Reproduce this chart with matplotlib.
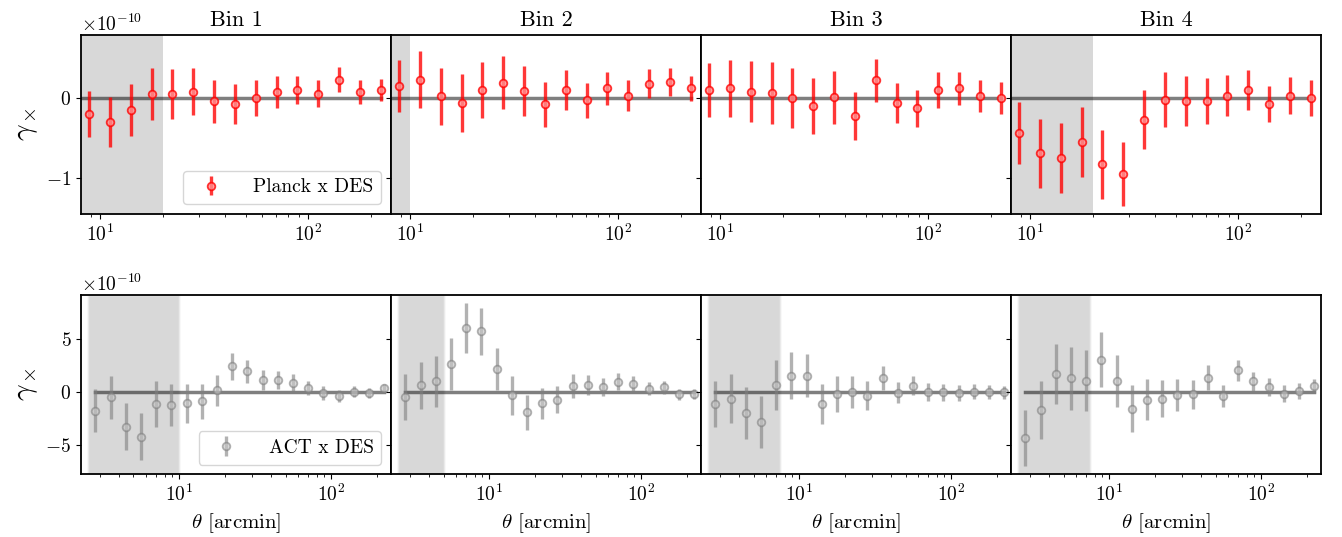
import numpy as np
import matplotlib
matplotlib.use("Agg")
import matplotlib.pyplot as plt

plt.rcParams["font.family"] = "serif"
plt.rcParams["font.serif"] = ["cmr10"]
plt.rcParams["mathtext.fontset"] = "cm"
plt.rcParams["axes.formatter.use_mathtext"] = True
plt.rcParams["axes.unicode_minus"] = True

# angular bin centres [arcmin]
theta = [2.81, 3.53, 4.44, 5.59, 7.04, 8.87, 11.16, 14.05, 17.69, 22.27,
         28.04, 35.30, 44.44, 55.95, 70.43, 88.67, 111.63, 140.53, 176.92, 222.73]
theta_planck = theta[5:]

bins = ["Bin 1", "Bin 2", "Bin 3", "Bin 4"]

# Planck x DES, units of 1e-10
planck_y = [
    [-0.20, -0.30, -0.15, 0.05, 0.05, 0.08, -0.04, -0.075, 0.0, 0.07, 0.10, 0.055, 0.23, 0.075, 0.10],
    [0.15, 0.23, 0.02, -0.06, 0.10, 0.19, 0.09, -0.08, 0.10, -0.03, 0.12, 0.03, 0.18, 0.20, 0.12],
    [0.10, 0.12, 0.08, 0.06, 0.0, -0.10, 0.01, -0.23, 0.22, -0.06, -0.13, 0.10, 0.12, 0.03, 0.0],
    [-0.44, -0.69, -0.75, -0.55, -0.83, -0.95, -0.27, -0.02, -0.035, -0.04, 0.03, 0.10, -0.075, 0.03, 0.0],
]
planck_err = [
    [0.285, 0.31, 0.32, 0.32, 0.31, 0.29, 0.27, 0.245, 0.22, 0.20, 0.18, 0.17, 0.16, 0.15, 0.14],
    [0.32, 0.35, 0.36, 0.36, 0.35, 0.33, 0.31, 0.28, 0.25, 0.22, 0.21, 0.19, 0.18, 0.17, 0.16],
    [0.34, 0.36, 0.38, 0.39, 0.375, 0.35, 0.33, 0.30, 0.27, 0.25, 0.23, 0.22, 0.21, 0.20, 0.20],
    [0.39, 0.43, 0.44, 0.44, 0.43, 0.40, 0.37, 0.34, 0.31, 0.285, 0.26, 0.245, 0.23, 0.23, 0.225],
]

# ACT x DES, units of 1e-10
act_y = [
    [-1.75, -0.5, -3.25, -4.2, -1.1, -1.2, -1.05, -0.85, 0.15, 2.4,
     1.95, 1.15, 1.15, 0.85, 0.4, -0.12, -0.35, 0.05, -0.1, 0.35],
    [-0.45, 0.65, 1.0, 2.6, 6.0, 5.7, 2.15, -0.3, -1.9, -1.05,
     -0.7, 0.55, 0.65, 0.45, 0.95, 0.8, 0.3, 0.45, -0.2, -0.2],
    [-1.15, -0.6, -1.95, -2.8, 0.7, 1.55, 1.55, -1.1, -0.2, 0.05,
     -0.35, 1.3, -0.05, 0.6, 0.0, 0.0, -0.05, 0.05, 0.0, 0.0],
    [-4.3, -1.7, 1.7, 1.3, 1.05, 3.05, 1.05, -1.55, -0.7, -0.6,
     -0.3, -0.2, 1.35, -0.35, 2.05, 1.0, 0.45, -0.15, 0.1, 0.55],
]
act_err = [
    [2.0, 2.05, 2.2, 2.2, 2.15, 2.0, 1.8, 1.65, 1.45, 1.3,
     1.1, 0.95, 0.85, 0.8, 0.65, 0.65, 0.55, 0.55, 0.45, 0.4],
    [2.15, 2.2, 2.4, 2.45, 2.35, 2.2, 2.0, 1.8, 1.65, 1.45,
     1.25, 1.1, 0.95, 0.85, 0.8, 0.7, 0.6, 0.6, 0.5, 0.45],
    [2.15, 2.25, 2.4, 2.45, 2.35, 2.2, 2.0, 1.9, 1.7, 1.5,
     1.35, 1.15, 1.0, 0.9, 0.85, 0.8, 0.75, 0.7, 0.65, 0.6],
    [2.6, 2.7, 2.85, 2.95, 2.85, 2.6, 2.4, 2.2, 1.95, 1.75,
     1.5, 1.35, 1.2, 1.05, 1.0, 0.9, 0.85, 0.8, 0.75, 0.65],
]

# scale cuts (shaded)
planck_cut = [20, 10, None, 20]
act_cut = [10, 5, 7.5, 7.5]

theta = np.array(theta)
theta_planck = np.array(theta_planck)

fig = plt.figure(figsize=(13.42, 5.37), dpi=100)
top_axes = []
bot_axes = []
left, right = 0.0604, 0.9844
w = (right - left) / 4
for i in range(4):
    ax_t = fig.add_axes([left + i * w, 0.6015, w, 0.3339],
                        sharey=top_axes[0] if top_axes else None)
    ax_b = fig.add_axes([left + i * w, 0.1168, w, 0.3339],
                        sharey=bot_axes[0] if bot_axes else None)
    top_axes.append(ax_t)
    bot_axes.append(ax_b)

for i in range(4):
    ax = top_axes[i]
    if planck_cut[i]:
        ax.axvspan(2.5, planck_cut[i], color="gray", alpha=0.3, lw=0)
    ax.plot(theta, 0 * theta, color="k", alpha=0.5, lw=2.5)
    ax.errorbar(theta_planck, np.array(planck_y[i]) * 1e-10,
                yerr=np.array(planck_err[i]) * 1e-10,
                fmt="o", color="red", mfc="#ff9090", mec="red", mew=1.3,
                alpha=0.78, ms=5.5, elinewidth=2.4,
                label="Planck x DES")
    ax.set_xscale("log")
    ax.set_xlim(8.1, 250)
    ax.set_ylim(-1.45e-10, 0.79e-10)
    ax.set_yticks([-1e-10, 0])
    ax.set_title(bins[i], fontsize=16)

    ax = bot_axes[i]
    ax.axvspan(2.5, act_cut[i], color="gray", alpha=0.3, lw=2, ec="#e8e8e8")
    ax.plot(theta, 0 * theta, color="k", alpha=0.5, lw=2.5)
    ax.errorbar(theta, np.array(act_y[i]) * 1e-10,
                yerr=np.array(act_err[i]) * 1e-10,
                fmt="o", color="gray", mfc="#c8c8c8", mec="gray", mew=1.3,
                alpha=0.6, ms=5.5, elinewidth=2.4,
                label="ACT x DES")
    ax.set_xscale("log")
    ax.set_xlim(2.26, 247)
    ax.set_ylim(-7.7e-10, 9.1e-10)
    ax.set_yticks([-5e-10, 0, 5e-10])
    ax.set_xlabel(r"$\theta$ [arcmin]", fontsize=15)

    for a in (top_axes[i], bot_axes[i]):
        a.tick_params(labelsize=14)
        if i > 0:
            a.tick_params(labelleft=False)
        for s in a.spines.values():
            s.set_linewidth(1.3)

for a in (top_axes[0], bot_axes[0]):
    a.set_ylabel(r"$\gamma_\times$", fontsize=21)
    a.yaxis.get_offset_text().set_fontsize(14)
    a.legend(loc="lower right", fontsize=14, handletextpad=1.2)

fig.savefig("out.png", dpi=100)
